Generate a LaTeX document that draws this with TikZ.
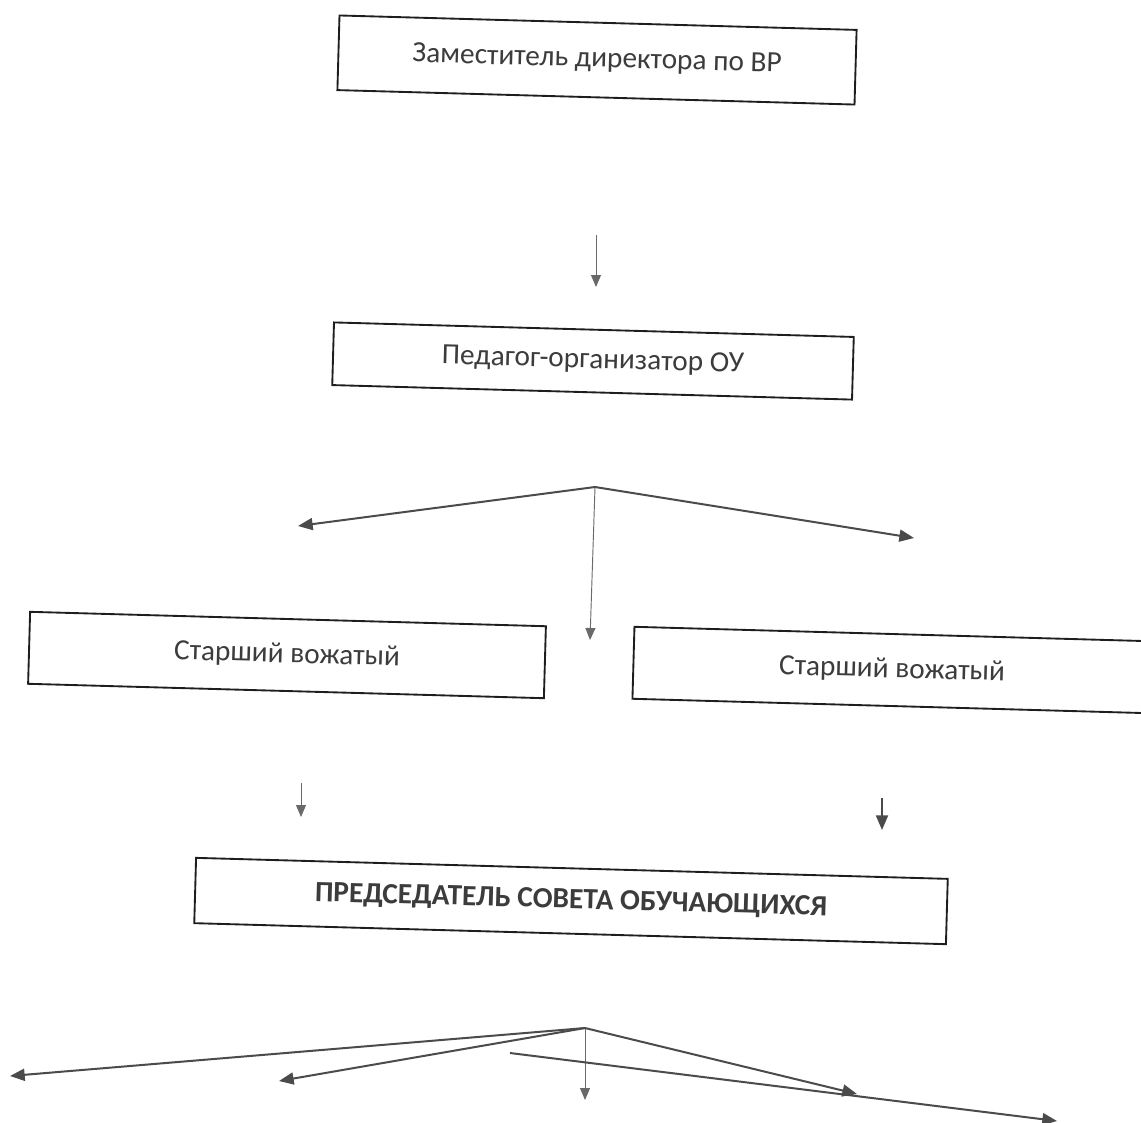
\documentclass[tikz,border=0pt]{standalone}
\usepackage{fontspec}
\setmainfont{Carlito}
\usetikzlibrary{arrows.meta}

\begin{document}
\begin{tikzpicture}[x=0.75pt,y=0.75pt,yscale=-1,xscale=1,
  box/.style={draw={rgb, 255:red, 30; green, 30; blue, 30 },line width=1.4pt,rotate=-1.6,
    minimum height=54pt,text={rgb, 255:red, 60; green, 60; blue, 60 },font=\fontsize{22}{26}\selectfont},
  link/.style={draw={rgb, 255:red, 75; green, 75; blue, 75 },line width=1.5pt,
    -{Triangle[length=11pt,width=9pt]}},
  thin link/.style={draw={rgb, 255:red, 105; green, 105; blue, 105 },line width=0.7pt,
    -{Triangle[length=9pt,width=7.5pt]}}]
            \useasboundingbox (0,0) rectangle (1141,1122);
            \clip (0,0) rectangle (1141,1122);
            %Shape: Rectangle
            \node [box,minimum width=388pt,minimum height=56pt] (deputy) at (597,60) {Заместитель директора по ВР};
            %Shape: Rectangle
            \node [box,minimum width=390pt,minimum height=47pt] (organizer) at (593,361) {Педагог-организатор ОУ};
            %Shape: Rectangle
            \node [box,minimum width=387pt] (leaderA) at (287,655) {Старший вожатый};
            %Shape: Rectangle
            \node [box,minimum width=388pt] (leaderB) at (892,670) {Старший вожатый};
            %Shape: Rectangle
            \node [box,minimum width=564pt,minimum height=49pt,font=\fontsize{22}{26}\selectfont\bfseries] (chair) at (571,901) {ПРЕДСЕДАТЕЛЬ СОВЕТА ОБУЧАЮЩИХСЯ};

            %Straight Lines
            \coordinate (d1) at (596,235);
            \coordinate (d2) at (596,287);
            \draw [thin link] (d1) -- (d2);
            %Straight Lines
            \coordinate (fork) at (595,487);
            \coordinate (forkL) at (298,526);
            \coordinate (forkR) at (914,538);
            \coordinate (forkC) at (590,640);
            \draw [link] (fork) -- (forkL);
            \draw [link] (fork) -- (forkR);
            \draw [thin link] (fork) -- (forkC);
            %Straight Lines
            \coordinate (l1) at (301,783);
            \coordinate (l2) at (301,817);
            \draw [thin link] (l1) -- (l2);
            \coordinate (r1) at (882,798);
            \coordinate (r2) at (882,830);
            \draw [link] (r1) -- (r2);
            %Straight Lines
            \coordinate (hub) at (585,1028);
            \coordinate (hubA) at (10,1076);
            \coordinate (hubB) at (279,1081);
            \coordinate (hubC) at (585,1100);
            \coordinate (hubD) at (857,1094);
            \coordinate (crossS) at (510,1053);
            \coordinate (crossE) at (1057,1121);
            \draw [link] (hub) -- (hubA);
            \draw [link] (hub) -- (hubB);
            \draw [thin link] (hub) -- (hubC);
            \draw [link] (hub) -- (hubD);
            \draw [link] (crossS) -- (crossE);
        \end{tikzpicture}
\end{document}
